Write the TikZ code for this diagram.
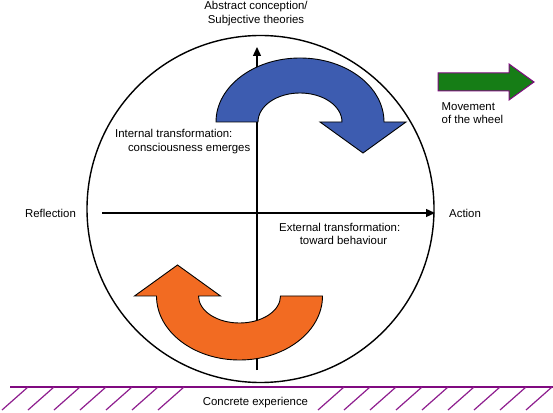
\documentclass[tikz,border=0pt]{standalone}
\usepackage{fontspec}
\setmainfont{Liberation Sans}
\usetikzlibrary{arrows.meta}
\definecolor{wblue}{RGB}{61,92,176}
\definecolor{worange}{RGB}{242,107,34}
\definecolor{wgreen}{RGB}{22,125,22}
\definecolor{wpurple}{RGB}{128,10,128}
\definecolor{hatchc}{RGB}{142,30,142}
\begin{document}
\begin{tikzpicture}[x=1pt,y=1pt,
  lbl/.style={inner sep=0pt,font=\fontsize{11.4}{13.5}\selectfont},
  axisline/.style={line width=1.3pt,-{Triangle[length=9pt,width=8pt]}},
  bigarrow/.style={draw=black,line width=0.9pt,line join=miter},
  hatchline/.style={draw=hatchc,line width=1.2pt}]
\useasboundingbox (0,0) rectangle (553,412);
% wheel
\node[circle,draw,line width=1.4pt,minimum size=347pt,inner sep=0pt] (wheel) at (260.5,203) {};
% axes
\coordinate (vbot) at (257,42);
\coordinate (vtop) at (257,365);
\coordinate (hleft) at (102,199);
\coordinate (hright) at (435,199);
\draw[axisline] (vbot) -- (vtop);
\draw[axisline] (hleft) -- (hright);
% blue curved arrow
\fill[wblue] (216,290) arc[start angle=180,end angle=0,x radius=84,y radius=64]
  -- (406,290) -- (363,259) -- (320,290) -- (342,290)
  arc[start angle=0,end angle=180,x radius=42,y radius=29] -- cycle;
\draw[bigarrow] (216,290) arc[start angle=180,end angle=0,x radius=84,y radius=64]
  -- (406,290) -- (363,259) -- (320,290) -- (342,290)
  arc[start angle=0,end angle=180,x radius=42,y radius=29] -- cycle;
% orange curved arrow
\fill[worange] (322.5,116) arc[start angle=0,end angle=-180,x radius=83,y radius=64]
  -- (134.5,116) -- (177.5,147) -- (220.5,116) -- (198.5,116)
  arc[start angle=180,end angle=360,x radius=41,y radius=27] -- cycle;
\draw[bigarrow] (322.5,116) arc[start angle=0,end angle=-180,x radius=83,y radius=64]
  -- (134.5,116) -- (177.5,147) -- (220.5,116) -- (198.5,116)
  arc[start angle=180,end angle=360,x radius=41,y radius=27] -- cycle;
% green arrow
\draw[fill=wgreen,draw=wpurple,line width=1pt] (438,321) -- (509,321) -- (509,312)
  -- (534,330) -- (509,348) -- (509,339) -- (438,339) -- cycle;
% ground
\coordinate (gl) at (10,25);
\coordinate (gr) at (553,25);
\draw[draw=wpurple,line width=1.5pt] (gl) -- (gr);
\foreach \x in {28,54,80,106,132,158,184,344,370,396,422,448,474,500,526,552}
  \draw[hatchline] (\x,25) -- (\x-26,2);
% labels
\node[lbl,anchor=base] (abs1) at (256,402) {Abstract conception/};
\node[lbl,anchor=base] (abs2) at (256,388) {Subjective theories};
\node[lbl,anchor=base] (refl) at (50.5,194.7) {Reflection};
\node[lbl,anchor=base west] (act) at (449,194.7) {Action};
\node[lbl,anchor=base west] (int1) at (115,274) {Internal transformation:};
\node[lbl,anchor=base east] (int2) at (250.5,260.5) {consciousness emerges};
\node[lbl,anchor=base west] (ext1) at (279,180) {External transformation:};
\node[lbl,anchor=base] (ext2) at (343.5,167) {toward behaviour};
\node[lbl,anchor=base west] (mov1) at (441.5,301) {Movement};
\node[lbl,anchor=base west] (mov2) at (441.5,288) {of the wheel};
\node[lbl,anchor=base] (conc) at (255.5,6.3) {Concrete experience};
\end{tikzpicture}
\end{document}
